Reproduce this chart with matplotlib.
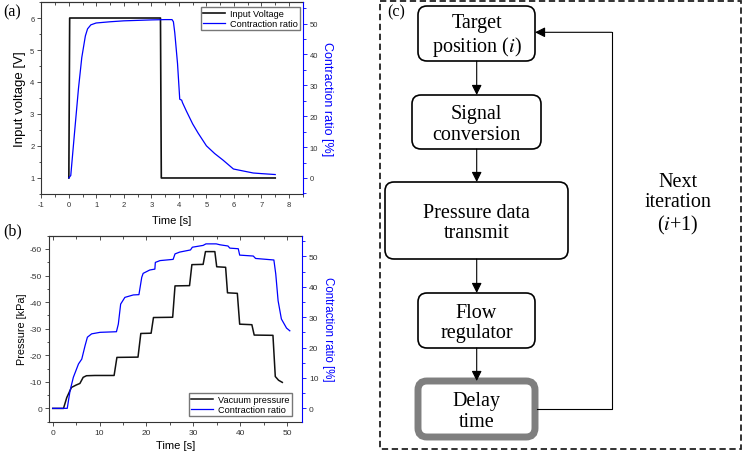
import matplotlib
matplotlib.use("Agg")
import matplotlib.pyplot as plt
from matplotlib.patches import FancyBboxPatch, Rectangle
from matplotlib.ticker import MultipleLocator

plt.rcParams['font.family'] = ['Liberation Sans', 'DejaVu Sans']
plt.rcParams['axes.unicode_minus'] = False
plt.rcParams['mathtext.fontset'] = 'stix'

# ---- panel (a): step voltage response
volt_t = [0.0, 0.0, 0.03, 3.33, 3.36, 7.5]
volt_v = [1.0, 1.0, 6.0, 6.0, 1.0, 1.0]
ratio_a_t = [0.0, 0.07, 0.2, 0.35, 0.47, 0.6, 0.68, 0.8, 0.99, 1.5, 2.0, 3.0, 3.5, 3.75,
             3.8, 3.85, 3.95, 4.03, 4.1, 4.13, 4.27, 4.5, 4.7, 5.0, 5.3, 5.6, 5.98, 6.2,
             6.7, 7.0, 7.5]
ratio_a_v = [0.0, 0.8, 14.0, 29.0, 39.0, 46.0, 48.3, 49.6, 50.2, 50.6, 50.9, 51.2, 51.3, 51.3,
             50.6, 47.0, 37.0, 25.5, 25.2, 24.4, 21.7, 17.5, 14.5, 10.4, 7.9, 5.8, 2.9, 2.5,
             1.6, 1.4, 1.1]

# ---- panel (b): stepwise vacuum pressure
pres_t = [0.0, 2.3, 3.0, 4.0, 5.0, 5.8, 6.5, 7.2, 9.0, 13.1, 13.7, 18.2, 18.8, 21.0, 21.5,
          25.6, 26.1, 29.2, 29.7, 32.1, 32.6, 34.6, 35.0, 36.9, 37.3, 39.4, 39.9, 42.5, 43.0,
          47.0, 47.5, 48.2, 49.0]
pres_v = [0.0, 0.0, -4.1, -7.9, -8.8, -9.4, -11.7, -12.3, -12.4, -12.4, -19.2, -19.3, -28.2, -28.3, -34.2,
          -34.3, -46.1, -46.2, -54.1, -54.2, -59.0, -59.0, -53.3, -53.1, -43.5, -43.3, -31.7, -31.5, -27.6,
          -27.5, -12.0, -10.6, -9.8]
ratio_b_t = [0.0, 3.1, 3.7, 4.4, 5.5, 6.2, 6.9, 7.4, 8.3, 10.1, 13.6, 14.0, 14.5, 15.4, 17.2,
             18.4, 19.0, 19.3, 20.7, 21.8, 21.9, 22.9, 25.7, 26.1, 27.1, 29.4, 29.8, 32.1, 32.7,
             34.9, 35.7, 37.4, 37.8, 39.6, 39.9, 42.8, 43.3, 47.2, 47.6, 48.1, 48.8, 49.9, 50.6]
ratio_b_v = [0.0, 0.0, 5.8, 10.2, 14.6, 16.2, 20.6, 23.4, 24.5, 25.0, 25.2, 27.7, 34.3, 36.5, 37.3,
             37.4, 43.1, 44.4, 45.5, 45.8, 48.0, 48.6, 49.0, 50.8, 51.4, 52.1, 53.0, 53.6, 54.1,
             54.1, 53.8, 53.4, 52.7, 52.5, 50.4, 50.1, 49.3, 48.8, 44.2, 35.4, 29.4, 26.4, 25.5]

# ---- panel (c): flow chart
steps = ['Target\nposition ($\\mathit{i}$)', 'Signal\nconversion', 'Pressure data\ntransmit',
         'Flow\nregulator', 'Delay\ntime']
loop_label = 'Next\niteration\n($\\mathit{i}$+1)'

BLUE = '#0000ff'
AX = '#333333'
fig = plt.figure(figsize=(7.42, 4.56), dpi=100)


def style_axes(ax, axr, xmaj, xmin, tick_fs):
    for s in ['left', 'bottom', 'top']:
        ax.spines[s].set_color(AX)
        ax.spines[s].set_linewidth(0.8)
    ax.spines['right'].set_visible(False)
    axr.spines['right'].set_color(BLUE)
    axr.spines['right'].set_linewidth(0.8)
    for s in ['left', 'bottom', 'top']:
        axr.spines[s].set_visible(False)
    ax.tick_params(axis='both', which='both', direction='out', labelsize=tick_fs, width=0.6,
                   colors=AX, pad=2)
    ax.tick_params(which='major', length=3)
    ax.tick_params(which='minor', length=1.8)
    axr.tick_params(axis='y', which='both', direction='out', colors=BLUE, labelcolor=AX,
                    labelsize=tick_fs, width=0.6, pad=2)
    axr.tick_params(which='major', length=3)
    axr.tick_params(which='minor', length=1.8)
    # mirrored ticks on top, pointing inwards
    top = ax.secondary_xaxis('top')
    top.xaxis.set_major_locator(MultipleLocator(xmaj))
    top.xaxis.set_minor_locator(MultipleLocator(xmin))
    top.tick_params(which='both', direction='in', labeltop=False, width=0.6, colors=AX)
    top.tick_params(which='major', length=3)
    top.tick_params(which='minor', length=1.8)
    top.spines['top'].set_color(AX)
    top.spines['top'].set_linewidth(0.8)


# (a)
axa = fig.add_axes([0.0557, 0.5724, 0.3523, 0.421])
axa2 = axa.twinx()
la, = axa.plot(volt_t, volt_v, color='#111111', lw=1.2)
lb, = axa2.plot(ratio_a_t, ratio_a_v, color=BLUE, lw=0.9)
axa.set_xlim(-1, 8.5)
axa.set_ylim(0.5, 6.5)
axa2.set_ylim(-5.2, 57)
axa.xaxis.set_major_locator(MultipleLocator(1))
axa.xaxis.set_minor_locator(MultipleLocator(0.5))
axa.yaxis.set_major_locator(MultipleLocator(1))
axa.yaxis.set_minor_locator(MultipleLocator(0.5))
axa2.yaxis.set_major_locator(MultipleLocator(10))
axa2.yaxis.set_minor_locator(MultipleLocator(5))
style_axes(axa, axa2, 1, 0.5, 5.5)
axa.set_xlabel('Time [s]', fontsize=8, labelpad=5)
axa.set_ylabel('Input voltage [V]', fontsize=9.5, labelpad=3)
axa2.set_ylabel('Contraction ratio [%]', fontsize=9, color=BLUE, rotation=270, labelpad=11)
axa.legend([la, lb], ['Input Voltage', 'Contraction ratio'], loc='upper right', fontsize=6.6,
           frameon=True, fancybox=False, edgecolor='#555555', borderpad=0.25, handlelength=2.4,
           labelspacing=0.1, handletextpad=0.5, borderaxespad=0, bbox_to_anchor=(0.99, 0.975))

# (b)
axb = fig.add_axes([0.066, 0.0730, 0.341, 0.408])
axb2 = axb.twinx()
lc, = axb.plot(pres_t, pres_v, color='#111111', lw=1.1)
ld, = axb2.plot(ratio_b_t, ratio_b_v, color=BLUE, lw=0.9)
axb.set_xlim(-0.8, 53.2)
axb.set_ylim(5, -65)
axb2.set_ylim(-4.4, 56.8)
axb.xaxis.set_major_locator(MultipleLocator(10))
axb.xaxis.set_minor_locator(MultipleLocator(5))
axb.yaxis.set_major_locator(MultipleLocator(10))
axb.yaxis.set_minor_locator(MultipleLocator(5))
axb2.yaxis.set_major_locator(MultipleLocator(10))
axb2.yaxis.set_minor_locator(MultipleLocator(5))
style_axes(axb, axb2, 10, 5, 6)
axb.set_xlabel('Time [s]', fontsize=8, labelpad=3)
axb.set_ylabel('Pressure [kPa]', fontsize=7.8, labelpad=2)
axb2.set_ylabel('Contraction ratio [%]', fontsize=8.3, color=BLUE, rotation=270, labelpad=11)
axb.legend([lc, ld], ['Vacuum pressure', 'Contraction ratio'], loc='lower right', fontsize=6.6,
           frameon=True, fancybox=False, edgecolor='#555555', borderpad=0.25, handlelength=2.4,
           labelspacing=0.1, handletextpad=0.5, borderaxespad=0, bbox_to_anchor=(0.96, 0.03))

# panel letters
fig.text(0.004, 0.972, '(a)', fontsize=11.5, family='Liberation Serif', va='center')
fig.text(0.004, 0.493, '(b)', fontsize=11.5, family='Liberation Serif', va='center')
fig.text(0.522, 0.972, '(c)', fontsize=11.5, family='Liberation Serif', va='center')

# (c) flow chart in pixel coordinates
axc = fig.add_axes([0, 0, 1, 1])
axc.set_xlim(0, 742)
axc.set_ylim(456, 0)
axc.axis('off')
axc.add_patch(Rectangle((380, 2), 361, 448, fill=False, ls=(0, (3.5, 2)), lw=1.3, color='#222222'))

boxes = [(418, 7, 117, 55), (412, 96, 129, 54), (385, 183, 183, 77), (418, 294, 117, 55),
         (418, 382, 117, 56)]
cx = 476.7
for i, (label, (x0, y0, w, h)) in enumerate(zip(steps, boxes)):
    last = i == len(steps) - 1
    axc.add_patch(FancyBboxPatch((x0, y0), w, h, boxstyle='round,pad=0,rounding_size=9',
                                 fc='white', ec='#7f7f7f' if last else 'black',
                                 lw=5 if last else 1.2))
    axc.text(x0 + w / 2, y0 + h / 2 + 2, label, ha='center', va='center', fontsize=14.5,
             family='Liberation Serif', linespacing=1.1)
    if not last:
        nxt = boxes[i + 1]
        axc.annotate('', xy=(cx, nxt[1]), xytext=(cx, y0 + h),
                     arrowprops=dict(arrowstyle='-|>,head_length=0.6,head_width=0.3',
                                     color='black', lw=0.8, shrinkA=0, shrinkB=0))

# feedback loop
dx0, dy0, dw, dh = boxes[-1]
tx0, ty0, tw, th = boxes[0]
axc.plot([dx0 + dw + 2, 611.7, 611.7], [410, 410, 33.3], color='black', lw=0.8)
axc.annotate('', xy=(tx0 + tw, 33.3), xytext=(611.7, 33.3),
             arrowprops=dict(arrowstyle='-|>,head_length=0.6,head_width=0.3',
                             color='black', lw=0.8, shrinkA=0, shrinkB=0))
axc.text(678, 205, loop_label, ha='center', va='center', fontsize=14.5,
         family='Liberation Serif', linespacing=1.1)

fig.savefig('out.png', dpi=100)
